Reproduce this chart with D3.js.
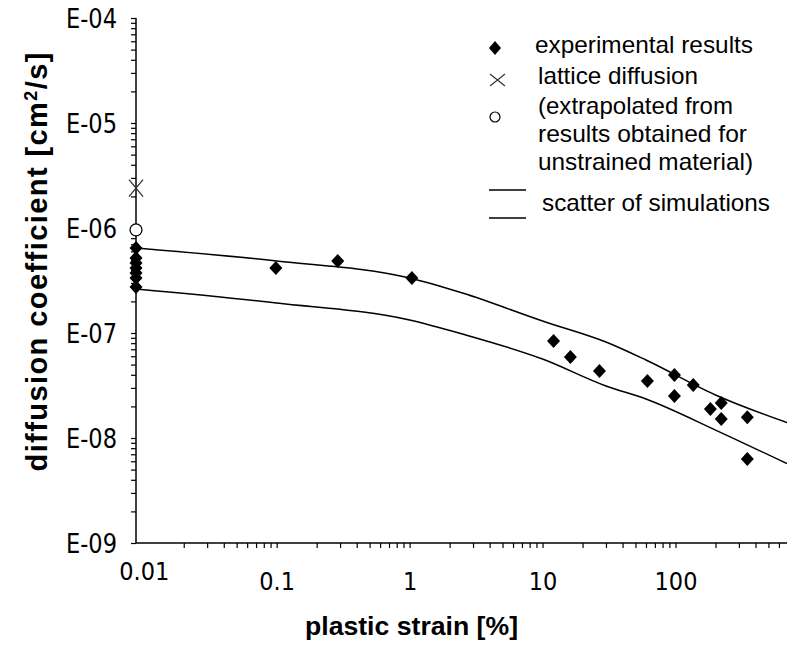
<!DOCTYPE html>
<html><head><meta charset="utf-8">
<script src="https://cdn.jsdelivr.net/npm/d3@7"></script>
<style>
body{margin:0;background:#fff;}
svg{display:block;}
text{font-family:"Liberation Sans",Arial,sans-serif;fill:#000;}
.narrow{font-family:"Liberation Sans Narrow","DejaVu Sans Condensed","Liberation Sans",sans-serif;}
</style></head>
<body>
<svg id="chart" width="787" height="646"></svg>
<script>
// ---- data ----
const expStrain = [0.00875,0.00875,0.00875,0.00875,0.00875,0.00875,0.00875,
  0.0986,0.288,1.04,12.1,16.2,26.8,61.5,98.2,136,98.2,183,221,221,347,347];
const expDiff = [6.45e-7,5.18e-7,4.64e-7,4.16e-7,3.73e-7,3.34e-7,2.74e-7,
  4.16e-7,4.85e-7,3.34e-7,8.39e-8,5.91e-8,4.35e-8,3.49e-8,3.98e-8,3.2e-8,2.51e-8,1.89e-8,2.15e-8,1.52e-8,1.58e-8,6.31e-9];
const latticeStrain = [0.00875];
const latticeDiff = [2.4e-6];
const extrapStrain = [0.00875];
const extrapDiff = [9.6e-7];
const simStrain = [0.00875,0.1,1,2.5,10,30,60,200,690];
const simUpper = [6.45e-7,4.85e-7,3.34e-7,2.40e-7,1.30e-7,8.21e-8,5.53e-8,2.57e-8,1.40e-8];
const simLower = [2.62e-7,1.93e-7,1.33e-7,9.78e-8,5.65e-8,3.13e-8,2.35e-8,1.19e-8,5.7e-9];
const xTickLabels = ["0.01","0.1","1","10","100"];
const yTickLabels = ["E-09","E-08","E-07","E-06","E-05","E-04"];
const legendLabels = ["experimental results","lattice diffusion","(extrapolated from","results obtained for","unstrained material)","scatter of simulations"];

const svg = d3.select("#chart");
const x = d3.scaleLog().domain([0.00875, 690]).range([136, 787]);
const y = d3.scaleLog().domain([1e-9, 1e-4]).range([543, 18]);

// ---- axes ----
const yMajor = [1e-9,1e-8,1e-7,1e-6,1e-5,1e-4];
const yTicks = [];
for (let e=-9;e<-4;e++) for (let m=1;m<10;m++) yTicks.push(m*Math.pow(10,e));
yTicks.push(1e-4);
const yAxis = d3.axisLeft(y).tickValues(yTicks).tickSize(5).tickPadding(14)
  .tickFormat(d => { const i = yMajor.findIndex(v => Math.abs(v-d)/d < 1e-6); return i>=0 ? yTickLabels[i] : ""; });
const gy = svg.append("g").attr("transform","translate(136,0)").call(yAxis);
gy.select(".domain").attr("stroke","#000").attr("stroke-width",1.5).attr("d","M0,18V543");
gy.selectAll(".tick line").attr("stroke","#000").attr("stroke-width",1.2);
gy.selectAll(".tick text").attr("class","narrow").attr("font-size",27).attr("dy","0.36em")
  .attr("x",-19).each(function(){ if (this.textContent) d3.select(this).attr("textLength",51).attr("lengthAdjust","spacingAndGlyphs"); });

const xMajor = [0.01,0.1,1,10,100];
const xTicks = [];
for (let e=-2;e<3;e++) for (let m=1;m<10;m++) { const v=m*Math.pow(10,e); if (v<=690) xTicks.push(v); }
const xAxis = d3.axisBottom(x).tickValues(xTicks).tickSize(5)
  .tickFormat(d => { const i = xMajor.findIndex(v => Math.abs(v-d)/d < 1e-6); return i>=0 ? xTickLabels[i] : ""; });
const gx = svg.append("g").attr("transform","translate(0,543)").call(xAxis);
gx.select(".domain").attr("stroke","#000").attr("stroke-width",1.5).attr("d","M136,0H787");
gx.selectAll(".tick line").attr("stroke","#000").attr("stroke-width",1.2);
gx.selectAll(".tick").filter(d => Math.abs(d-0.01)<1e-9).select("line").remove();
gx.selectAll(".tick text").attr("class","narrow").attr("font-size",25).attr("dy",null)
  .attr("y", d => Math.abs(d-0.01)<1e-9 ? 37 : 47);

// ---- simulation scatter lines ----
const line = d3.line().x(d => x(d[0])).y(d => y(d[1])).curve(d3.curveMonotoneX);
[simUpper, simLower].forEach(s => {
  svg.append("path").datum(simStrain.map((v,i)=>[v,s[i]]))
    .attr("d",line).attr("fill","none").attr("stroke","#000").attr("stroke-width",1.5);
});

// ---- markers ----
const diamond = "M0,-7L6.5,0L0,7L-6.5,0Z";
svg.append("g").selectAll("path").data(expStrain.map((v,i)=>[v,expDiff[i]])).join("path")
  .attr("d",diamond).attr("transform",d=>`translate(${x(d[0])},${y(d[1])})`).attr("fill","#000");
latticeStrain.forEach((v,i)=>{
  const cx=x(v), cy=y(latticeDiff[i]);
  svg.append("path").attr("d",`M${cx-7},${cy-8.5}L${cx+7},${cy+8.5}M${cx-7},${cy+8.5}L${cx+7},${cy-8.5}`)
    .attr("stroke","#333").attr("stroke-width",1.3).attr("fill","none");
});
extrapStrain.forEach((v,i)=>{
  svg.append("circle").attr("cx",x(v)).attr("cy",y(extrapDiff[i])).attr("r",6)
    .attr("fill","#fff").attr("stroke","#000").attr("stroke-width",1.3);
});

// ---- axis titles ----
svg.append("text").attr("x",305).attr("y",635).attr("font-size",26.5).attr("font-weight","bold")
  .attr("textLength",213).attr("lengthAdjust","spacingAndGlyphs").text("plastic strain [%]");
const yt = svg.append("text").attr("transform","translate(46.5,262) rotate(-90)")
  .attr("text-anchor","middle").attr("font-size",29).attr("font-weight","bold")
  .attr("textLength",419).attr("lengthAdjust","spacing");
yt.append("tspan").text("diffusion coefficient [cm");
yt.append("tspan").attr("font-size",18).attr("dy",-10).text("2");
yt.append("tspan").attr("dy",10).text("/s]");

// ---- legend ----
const lg = svg.append("g");
lg.append("path").attr("d","M0,-7L6,0L0,7L-6,0Z").attr("transform","translate(495,48)").attr("fill","#000");
lg.append("path").attr("d","M490,74L505,86M490,86L505,74").attr("stroke","#333").attr("stroke-width",1.2);
lg.append("circle").attr("cx",495).attr("cy",117).attr("r",5).attr("fill","#fff").attr("stroke","#000").attr("stroke-width",1.2);
lg.append("path").attr("d","M489,190H526M489,218H526").attr("stroke","#000").attr("stroke-width",1.5);
const legPos = [[535,53,218],[538,84,160],[538,114,195],[538,142,209],[538,170,215],[542,211,228]];
legendLabels.forEach((t,i)=>{
  lg.append("text").attr("x",legPos[i][0]).attr("y",legPos[i][1]).attr("font-size",24)
    .attr("textLength",legPos[i][2]).attr("lengthAdjust","spacingAndGlyphs").text(t);
});
</script>
</body></html>
